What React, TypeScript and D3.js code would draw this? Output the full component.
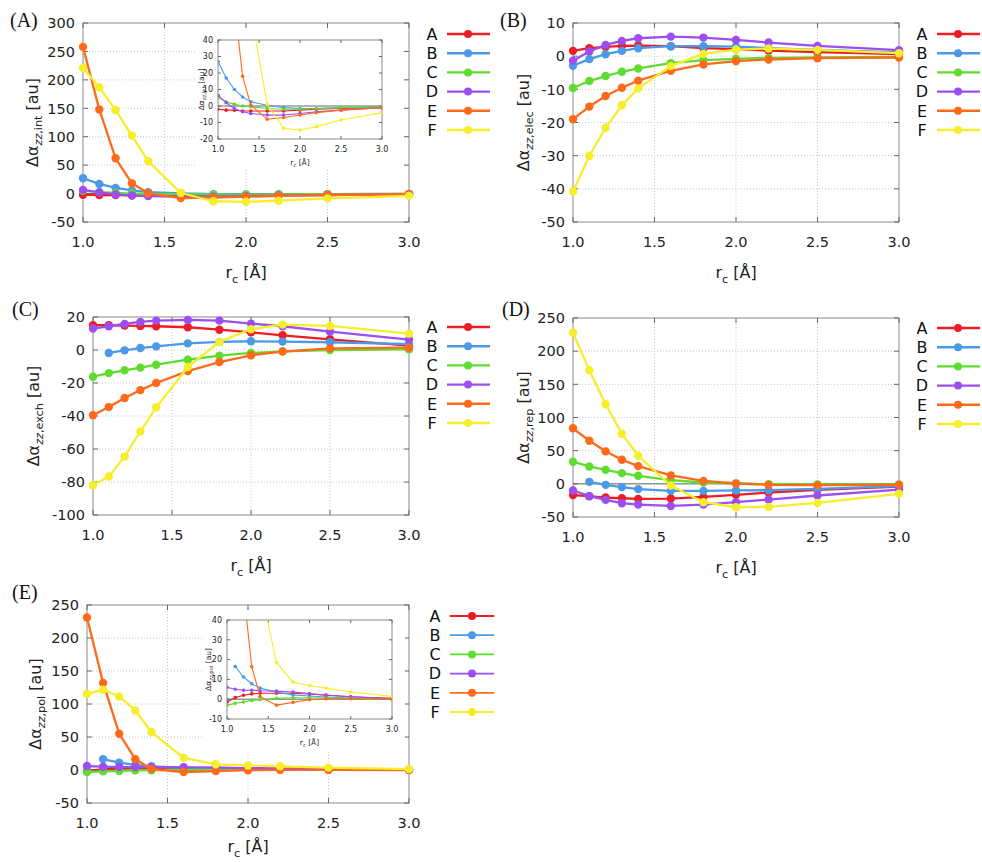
import * as d3 from "d3";

// r_c grid in Å
const rc = [1.0, 1.1, 1.2, 1.3, 1.4, 1.6, 1.8, 2.0, 2.2, 2.5, 3.0];
const seriesNames = ["A", "B", "C", "D", "E", "F"];
const seriesColors = ["#ee1c25", "#4a9ae8", "#5fdc2f", "#9b4ff0", "#ff6a1a", "#f6ee2a"];

type Row = (number | null)[];

// (A) interaction
const interaction: Row[] = [
  [-2, -2.5, -2.5, -3, -3, -3, -3, -2.5, -2, -1.5, -1],
  [27, 17, 10, 5.5, 2.5, 0.5, -1, -1.5, -1.5, -1, -0.5],
  [5, 2.5, 1, 0, -0.5, -1.5, -2, -2, -1.5, -1, -0.5],
  [6.5, 2, -1.5, -3.5, -4.5, -5.5, -5.5, -4.5, -3.5, -2.5, -1],
  [258, 148, 62, 18, 0.5, -8, -7, -5.5, -4, -2.5, -1],
  [221, 187, 147, 102, 57, 1, -13.5, -14.5, -12.5, -8.5, -4],
];

// (B) electrostatic
const electrostatic: Row[] = [
  [1.6, 2.4, 2.8, 3.1, 3.2, 3.0, 2.4, 2.1, 1.7, 1.2, 0.6],
  [-2.9, -0.9, 0.6, 1.6, 2.4, 3.0, 3.0, 2.9, 2.4, 1.9, 1.1],
  [-9.6, -7.5, -6.0, -4.7, -3.7, -2.1, -1.2, -0.8, -0.5, -0.4, -0.2],
  [-1.4, 1.4, 3.4, 4.6, 5.4, 5.9, 5.6, 4.9, 4.1, 3.1, 1.8],
  [-19, -15.2, -12, -9.5, -7.4, -4.4, -2.5, -1.5, -1.0, -0.6, -0.4],
  [-40.8, -30.1, -21.6, -14.8, -9.7, -3.0, 0.7, 2.0, 2.3, 1.9, 0.9],
];

// (C) exchange
const exchange: Row[] = [
  [15, 15, 14.8, 14.6, 14.4, 13.8, 12.3, 10.7, 8.9, 6.5, 2.6],
  [null, -1.8, -0.2, 1.2, 2.2, 4.0, 4.9, 5.3, 5.1, 4.7, 3.6],
  [-16.2, -14, -12.3, -10.7, -8.9, -5.9, -3.4, -1.8, -0.8, 0, 0.4],
  [13, 14.4, 15.8, 17, 17.8, 18.2, 17.8, 16, 14.4, 11.1, 6.3],
  [-39.5, -34.6, -29.1, -24.3, -20, -12.8, -7.3, -3.2, -1.0, 1.0, 1.4],
  [-82, -76.7, -64.6, -49.4, -34.8, -10.3, 4.9, 12.6, 15.4, 14.6, 9.9],
];

// (D) repulsion
const repulsion: Row[] = [
  [-17, -18.6, -20.7, -21.7, -22.7, -22.2, -19.7, -16.6, -13.1, -9, -4],
  [null, 3, -1.5, -5, -8, -10.6, -10.6, -10, -9.6, -7.6, -3.5],
  [33.3, 26.2, 21.2, 16.1, 12.1, 5.5, 2, 0.5, -0.5, -1, -1],
  [-10, -18.6, -24.2, -29.2, -31.2, -33.3, -31.2, -27.7, -23.7, -17.6, -8.6],
  [83.7, 65, 49, 36.3, 26.7, 12.6, 4.5, 0.5, -1.5, -2, -1.5],
  [227.8, 171.4, 120, 75.6, 42.3, -2.5, -27.7, -35.3, -34.8, -28.7, -15],
];

// (E) polarization
const polarization: Row[] = [
  [-1.4, 0.8, 2, 2.7, 3, 3, 3, 2.6, 2, 1.2, 0.4],
  [null, 16.5, 11.2, 7.8, 5.6, 3.6, 2.2, 1.6, 1.1, 0.6, 0.2],
  [-3, -2.1, -1.4, -0.6, -0.3, 0.4, 0.7, 0.7, 0.6, 0.4, 0.2],
  [6, 5, 4.5, 4.5, 4.3, 4.1, 3.6, 2.8, 2.1, 1.2, 0.2],
  [231, 132, 55, 16.4, 1.4, -3, -1.6, -0.3, 0.2, 0.2, 0],
  [115.4, 121.5, 111.4, 90.2, 57.5, 18.5, 8.6, 6.9, 5.6, 3.6, 1.4],
];

const xTicks = [1.0, 1.5, 2.0, 2.5, 3.0];
const FONT = "DejaVu Sans, Verdana, sans-serif";

type PlotProps = {
  id: string;
  values: Row[];
  sub: string;
  x0: number; x1: number; y0: number; y1: number;
  yDomain: [number, number];
  yStep: number;
  fs: number;
  labFs: number;
  tickLen: number;
  lw: number;
  r: number;
  grid: boolean;
  zero: boolean;
  clip: boolean;
  ylabX: number;
  tickGap: number;
  xTickDy: number;
  xLabDy: number;
};

function Plot(p: PlotProps) {
  const x = d3.scaleLinear().domain([1, 3]).range([p.x0, p.x1]);
  const y = d3.scaleLinear().domain(p.yDomain).range([p.y1, p.y0]);
  const yTicks = d3.range(p.yDomain[0], p.yDomain[1] + p.yStep / 2, p.yStep);
  const line = d3
    .line<[number, number | null]>()
    .defined((d) => d[1] !== null)
    .x((d) => x(d[0]))
    .y((d) => y(d[1] as number));
  const clipId = `clip-${p.id}`;
  const fmtX = d3.format(".1f");
  return (
    <g>
      {p.clip && (
        <defs>
          <clipPath id={clipId}>
            <rect x={p.x0} y={p.y0} width={p.x1 - p.x0} height={p.y1 - p.y0} />
          </clipPath>
        </defs>
      )}
      {p.grid &&
        xTicks.slice(1, -1).map((t) => (
          <line key={`gx${t}`} x1={x(t)} x2={x(t)} y1={p.y0} y2={p.y1}
            stroke="#c8c8c8" strokeWidth={1} strokeDasharray="1,2" />
        ))}
      {p.grid &&
        yTicks.slice(1, -1).map((t) => (
          <line key={`gy${t}`} x1={p.x0} x2={p.x1} y1={y(t)} y2={y(t)}
            stroke="#c8c8c8" strokeWidth={1} strokeDasharray="1,2" />
        ))}
      {p.zero && (
        <line x1={p.x0} x2={p.x1} y1={y(0)} y2={y(0)} stroke="#666" strokeWidth={1} />
      )}
      <rect x={p.x0} y={p.y0} width={p.x1 - p.x0} height={p.y1 - p.y0}
        fill="none" stroke="#8a8a8a" strokeWidth={1} />
      {xTicks.map((t) => (
        <g key={`tx${t}`}>
          <line x1={x(t)} x2={x(t)} y1={p.y1} y2={p.y1 - p.tickLen} stroke="#666" />
          <line x1={x(t)} x2={x(t)} y1={p.y0} y2={p.y0 + p.tickLen} stroke="#666" />
          <text x={x(t)} y={p.y1 + p.xTickDy} fontSize={p.fs} fontFamily={FONT}
            textAnchor="middle" fill="#222">{fmtX(t)}</text>
        </g>
      ))}
      {yTicks.map((t) => (
        <g key={`ty${t}`}>
          <line x1={p.x0} x2={p.x0 + p.tickLen} y1={y(t)} y2={y(t)} stroke="#666" />
          <line x1={p.x1} x2={p.x1 - p.tickLen} y1={y(t)} y2={y(t)} stroke="#666" />
          <text x={p.x0 - p.tickGap} y={y(t)} dy="0.36em" fontSize={p.fs}
            fontFamily={FONT} textAnchor="end" fill="#222">{t}</text>
        </g>
      ))}
      <g clipPath={p.clip ? `url(#${clipId})` : undefined}>
        {p.values.map((row, i) => {
          const pts = rc.map((v, j) => [v, row[j]] as [number, number | null]);
          return (
            <g key={`s${i}`}>
              <path d={line(pts) || ""} fill="none" stroke={seriesColors[i]}
                strokeWidth={p.lw} strokeLinejoin="round" />
              {pts.filter((d) => d[1] !== null).map((d) => (
                <circle key={d[0]} cx={x(d[0])} cy={y(d[1] as number)} r={p.r}
                  fill={seriesColors[i]} />
              ))}
            </g>
          );
        })}
      </g>
      <text transform={`translate(${p.ylabX},${(p.y0 + p.y1) / 2}) rotate(-90)`}
        textAnchor="middle" dy="0.35em" fontSize={p.labFs} fontFamily={FONT} fill="#222">
        Δα
        <tspan fontSize={p.labFs * 0.7} dy={p.labFs * 0.3}>
          <tspan fontStyle="italic">zz</tspan>,{p.sub}
        </tspan>
        <tspan dy={-p.labFs * 0.3}> [au]</tspan>
      </text>
      <text x={(p.x0 + p.x1) / 2} y={p.y1 + p.xLabDy} textAnchor="middle"
        fontSize={p.labFs} fontFamily={FONT} fill="#222">
        r<tspan fontSize={p.labFs * 0.7} dy={p.labFs * 0.3}>c</tspan>
        <tspan dy={-p.labFs * 0.3}> [Å]</tspan>
      </text>
    </g>
  );
}

type Legend = { y0: number; step: number; letterX: number; lx0: number; lx1: number; dotX: number; lw: number };

function LegendBox({ l }: { l: Legend }) {
  return (
    <g>
      {seriesNames.map((n, i) => {
        const yy = l.y0 + i * l.step;
        return (
          <g key={n}>
            <text x={l.letterX} y={yy} dy="0.36em" textAnchor="middle" fontSize={16}
              fontFamily={FONT} fill="#111">{n}</text>
            <line x1={l.lx0} x2={l.lx1} y1={yy} y2={yy} stroke={seriesColors[i]} strokeWidth={l.lw} />
            <circle cx={l.dotX} cy={yy} r={4} fill={seriesColors[i]} />
          </g>
        );
      })}
    </g>
  );
}

type Panel = {
  key: string;
  tag: string; tagX: number; tagY: number;
  values: Row[]; sub: string;
  x0: number; x1: number; y0: number; y1: number;
  yDomain: [number, number]; yStep: number;
  ylabX: number; zero: boolean; xLabDy: number;
  legend: Legend;
  inset?: { x0: number; x1: number; y0: number; y1: number; yDomain: [number, number]; ylabX: number; bg: [number, number, number, number] };
};

const legendLeft = (y0: number): Legend => ({ y0, step: 19.2, letterX: 432, lx0: 447, lx1: 490, dotX: 468, lw: 2.4 });
const legendRight = (y0: number): Legend => ({ y0, step: 19.2, letterX: 922, lx0: 937, lx1: 980, dotX: 958, lw: 2.4 });

const panels: Panel[] = [
  {
    key: "a", tag: "(A)", tagX: 10, tagY: 27, values: interaction, sub: "int",
    x0: 83, x1: 409, y0: 23, y1: 222, yDomain: [-50, 300], yStep: 50, ylabX: 32, zero: true, xLabDy: 56,
    legend: legendLeft(34),
    inset: { x0: 218, x1: 382, y0: 40, y1: 139, yDomain: [-20, 40], ylabX: 201, bg: [195, 31, 402, 170] },
  },
  {
    key: "b", tag: "(B)", tagX: 500, tagY: 27, values: electrostatic, sub: "elec",
    x0: 573, x1: 899, y0: 23, y1: 222, yDomain: [-50, 10], yStep: 10, ylabX: 523, zero: false, xLabDy: 56,
    legend: legendRight(34),
  },
  {
    key: "c", tag: "(C)", tagX: 12, tagY: 316, values: exchange, sub: "exch",
    x0: 93, x1: 409, y0: 317, y1: 515, yDomain: [-100, 20], yStep: 20, ylabX: 33, zero: false, xLabDy: 56,
    legend: legendLeft(327),
  },
  {
    key: "d", tag: "(D)", tagX: 502, tagY: 316, values: repulsion, sub: "rep",
    x0: 573, x1: 899, y0: 318, y1: 517, yDomain: [-50, 250], yStep: 50, ylabX: 523, zero: true, xLabDy: 56,
    legend: legendRight(328),
  },
  {
    key: "e", tag: "(E)", tagX: 12, tagY: 599, values: polarization, sub: "pol",
    x0: 87, x1: 409, y0: 605, y1: 803, yDomain: [-50, 250], yStep: 50, ylabX: 35, zero: true, xLabDy: 49,
    legend: { y0: 616, step: 19.2, letterX: 435, lx0: 450, lx1: 494, dotX: 472, lw: 1.8 },
    inset: { x0: 227, x1: 392, y0: 620, y1: 719, yDomain: [-10, 40], ylabX: 208, bg: [203, 611, 405, 750] },
  },
];

export default function App() {
  return (
    <svg width={982} height={862} style={{ position: "absolute", left: 0, top: 0, background: "#fff" }}>
      <rect width={982} height={862} fill="#fff" />
      {panels.map((p) => (
        <g key={p.key}>
          <text x={p.tagX} y={p.tagY} fontSize={20} fontFamily="Liberation Serif, Times New Roman, serif" fill="#111">{p.tag}</text>
          <Plot id={`main-${p.key}`} values={p.values} sub={p.sub} x0={p.x0} x1={p.x1} y0={p.y0} y1={p.y1}
            yDomain={p.yDomain} yStep={p.yStep} fs={14.5} labFs={16} tickLen={5} lw={2.3} r={4.2}
            grid={true} zero={p.zero} clip={false} ylabX={p.ylabX} tickGap={8} xTickDy={25} xLabDy={p.xLabDy} />
          {p.inset && (
            <g>
              <rect x={p.inset.bg[0]} y={p.inset.bg[1]} width={p.inset.bg[2] - p.inset.bg[0]}
                height={p.inset.bg[3] - p.inset.bg[1]} fill="#fff" />
              <Plot id={`inset-${p.key}`} values={p.values} sub={p.sub} x0={p.inset.x0} x1={p.inset.x1}
                y0={p.inset.y0} y1={p.inset.y1} yDomain={p.inset.yDomain} yStep={10} fs={8} labFs={7.5}
                tickLen={3} lw={1.1} r={1.8} grid={false} zero={true} clip={true} ylabX={p.inset.ylabX}
                tickGap={5} xTickDy={13} xLabDy={26} />
            </g>
          )}
          <LegendBox l={p.legend} />
        </g>
      ))}
    </svg>
  );
}
